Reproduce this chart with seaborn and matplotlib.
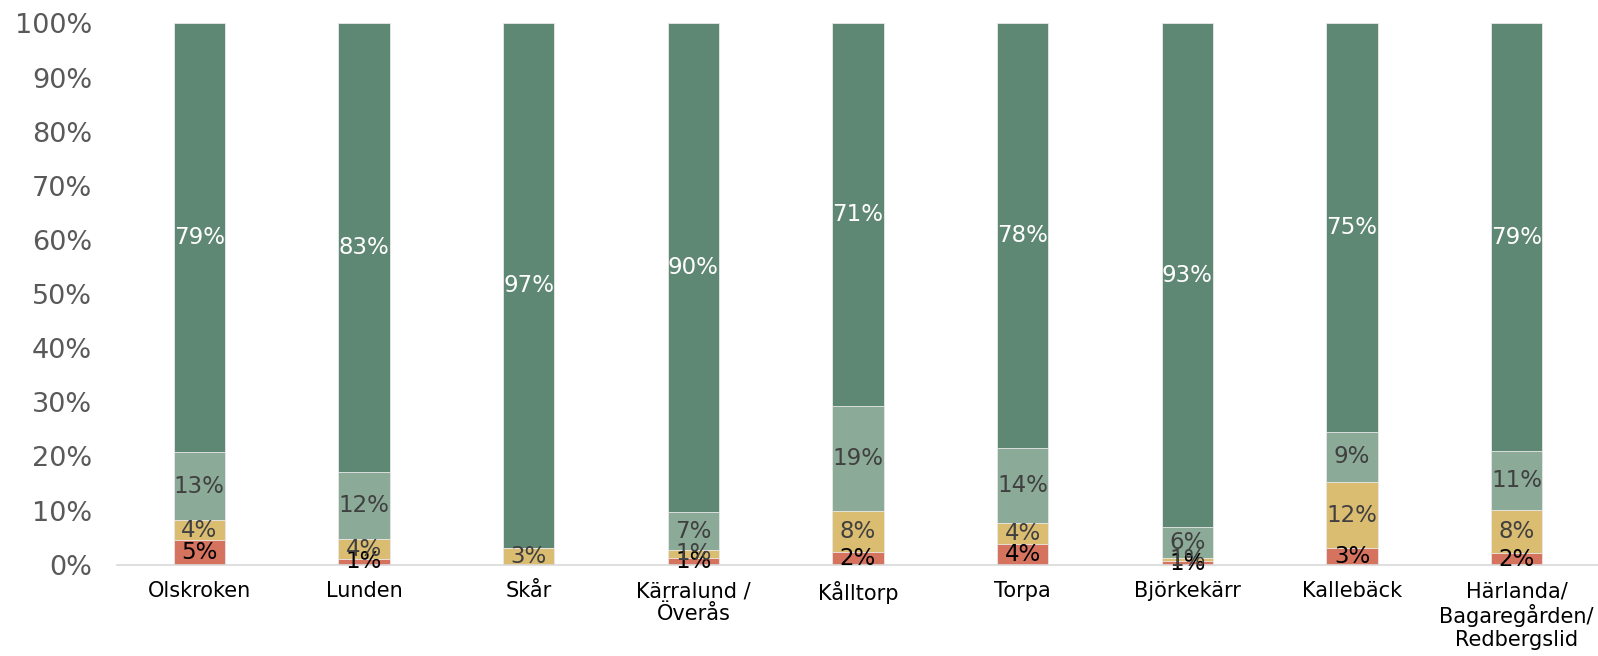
import matplotlib
matplotlib.use("Agg")
import matplotlib.pyplot as plt
import seaborn as sns
import numpy as np
import pandas as pd

categories = ["Olskroken", "Lunden", "Skår", "Kärralund /\nÖverås", "Kålltorp",
              "Torpa", "Björkekärr", "Kallebäck", "Härlanda/\nBagaregården/\nRedbergslid"]
red    = [4.6, 1.0, 0.0, 1.3, 2.3, 3.8, 0.6, 3.0, 2.1]
yellow = [3.6, 3.7, 3.1, 1.4, 7.7, 3.9, 0.6, 12.3, 8.0]
light  = [12.6, 12.4, 0.0, 7.0, 19.4, 13.9, 5.7, 9.3, 10.9]
dark   = [79.2, 82.9, 96.9, 90.3, 70.6, 78.4, 93.1, 75.4, 79.0]

sns.set_theme(style="white")
plt.rcParams['font.family'] = ['DejaVu Sans']

fig = plt.figure(figsize=(15.98, 6.56), dpi=100)
ax = fig.add_axes([117/1598, 1 - 564.7/656, (1599-117)/1598, (564.7-23.4)/656])

df = pd.DataFrame({"cat": categories, "red": red, "yellow": yellow, "light": light, "dark": dark})
layers = [("dark", "#5F8874"), ("light", "#8BAB98"), ("yellow", "#DBBD72"), ("red", "#D6735F")]
order = ["red", "yellow", "light", "dark"]
cum = df[order].cumsum(axis=1)

for name, col in layers:
    sns.barplot(x=df["cat"], y=cum[name], color=col, width=0.31, ax=ax,
                edgecolor="#EAEAEA", linewidth=0.6, saturation=1, order=categories)

label_colors = {"red": "black", "yellow": "#404040", "light": "#404040", "dark": "white"}
for i in range(len(categories)):
    base = 0.0
    for name in order:
        v = df[name][i]
        if v > 0:
            ax.text(i, base + v / 2, f"{round(v):d}%", ha="center", va="center",
                    fontsize=16.5, color=label_colors[name])
        base += v

ax.set_ylim(0, 100)
ax.set_xlim(-0.5, len(categories) - 0.5)
ax.set_yticks(np.arange(0, 101, 10))
ax.set_yticklabels([f"{t}%" for t in range(0, 101, 10)], fontsize=19.5, color="#595959")
ax.set_xticks(range(len(categories)))
ax.set_xticklabels(categories, fontsize=15, color="black", linespacing=1.15)
ax.tick_params(axis="x", length=0, pad=12)
ax.tick_params(axis="y", length=0, pad=18)
ax.set_xlabel("")
ax.set_ylabel("")
for s in ["top", "right", "left"]:
    ax.spines[s].set_visible(False)
ax.spines["bottom"].set_color("#D9D9D9")
ax.spines["bottom"].set_linewidth(1.2)
ax.grid(False)

fig.savefig("out.png", dpi=100)
